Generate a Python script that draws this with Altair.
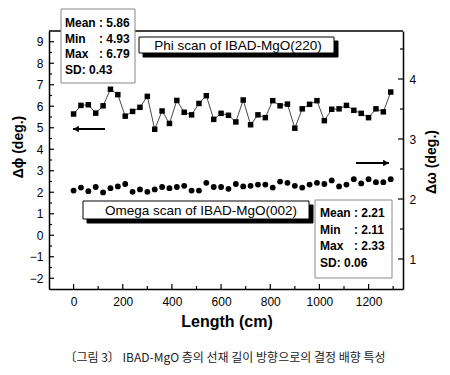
import altair as alt
import pandas as pd

FONT = "Liberation Sans"
KFONT = "Noto Sans CJK KR"

# ---------------- data ----------------
length_cm = [0, 30, 60, 90, 120, 150, 180, 210, 240, 270, 300, 330, 360, 390, 420,
             450, 480, 510, 540, 570, 600, 630, 660, 690, 720, 750, 780, 810, 840, 870,
             900, 930, 960, 990, 1020, 1050, 1080, 1110, 1140, 1170, 1200, 1230, 1260, 1290]
phi_deg = [5.64, 6.04, 6.07, 5.68, 6.02, 6.79, 6.54, 5.54, 5.76, 5.95, 6.46, 4.93, 5.78, 5.20, 6.27,
           5.72, 5.60, 6.13, 6.49, 5.39, 5.67, 5.58, 5.27, 6.29, 5.14, 5.60, 5.47, 6.26, 6.02, 6.10,
           4.98, 5.88, 6.09, 6.26, 5.33, 5.86, 5.88, 6.04, 5.81, 5.67, 5.47, 5.88, 5.74, 6.66]
omega_deg = [2.14, 2.19, 2.13, 2.20, 2.11, 2.18, 2.21, 2.25, 2.12, 2.16, 2.12, 2.16, 2.20, 2.18, 2.20,
             2.22, 2.14, 2.14, 2.27, 2.20, 2.20, 2.17, 2.25, 2.21, 2.22, 2.24, 2.24, 2.19, 2.29, 2.27,
             2.22, 2.19, 2.24, 2.27, 2.25, 2.31, 2.21, 2.24, 2.33, 2.26, 2.33, 2.28, 2.28, 2.33]

x_major = [0, 200, 400, 600, 800, 1000, 1200]
x_minor = [100, 300, 500, 700, 900, 1100, 1300]
left_major = [-2, -1, 0, 1, 2, 3, 4, 5, 6, 7, 8, 9]
left_minor = [-1.5, -0.5, 0.5, 1.5, 2.5, 3.5, 4.5, 5.5, 6.5, 7.5, 8.5]
right_major = [1, 2, 3, 4]
right_minor = [1.5, 2.5, 3.5, 4.5]

phi_stat_labels = ["Mean", "Min", "Max"]
phi_stat_values = [": 5.86", ": 4.93", ": 6.79"]
phi_sd = "SD: 0.43"
omega_stat_labels = ["Mean", "Min", "Max"]
omega_stat_values = [": 2.21", ": 2.11", ": 2.33"]
omega_sd = "SD: 0.06"

phi_title = "Phi scan of IBAD-MgO(220)"
omega_title = "Omega scan of IBAD-MgO(002)"
x_title = "Length (cm)"
y_left_title = "Δϕ (deg.)"
y_right_title = "Δω (deg.)"
caption = "〔그림 3〕 IBAD-MgO 층의 선재 길이 방향으로의 결정 배향 특성"

# ---------------- layout ----------------
W, H = 354, 258
one = alt.Data(values=[{"a": 1}])

xscale = alt.Scale(domain=[-100, 1340], nice=False, zero=False)
lscale = alt.Scale(domain=[-2.5, 9.5], nice=False, zero=False)
rscale = alt.Scale(domain=[0.5, 4.8], nice=False, zero=False)

df = pd.DataFrame({"length": length_cm, "phi": phi_deg, "omega": omega_deg})

x_axis = alt.Axis(values=x_major, title=None, ticks=False, tickSize=0, labelPadding=7, format="d",
                  labelFontSize=12, labelFont=FONT, labelColor="black", grid=False,
                  domainColor="black", domainWidth=1.5, labelFlush=False)
l_axis = alt.Axis(values=left_major, title=None, ticks=False, tickSize=0, labelPadding=6, format="d",
                  labelFontSize=12, labelFont=FONT, labelColor="black", grid=False,
                  domainColor="black", domainWidth=1.5, orient="left")
r_axis = alt.Axis(values=right_major, title=None, ticks=False, tickSize=0, labelPadding=6, format="d",
                  labelFontSize=12, labelFont=FONT, labelColor="black", grid=False,
                  domainColor="black", domainWidth=1.5, orient="right")

phi_line = alt.Chart(df).mark_line(color="#333333", strokeWidth=0.9).encode(
    x=alt.X("length:Q", scale=xscale, axis=x_axis),
    y=alt.Y("phi:Q", scale=lscale, axis=l_axis),
)
phi_pts = alt.Chart(df).mark_point(shape="square", filled=True, color="black", size=30, opacity=1).encode(
    x=alt.X("length:Q", scale=xscale, axis=x_axis),
    y=alt.Y("phi:Q", scale=lscale, axis=l_axis),
)


def xticks(vals, n):
    return alt.Chart(pd.DataFrame({"length": vals})).mark_rule(color="black", strokeWidth=1.2).encode(
        x=alt.X("length:Q", scale=xscale, axis=x_axis), y=alt.value(H), y2=alt.value(H - n))


def lticks(vals, n):
    return alt.Chart(pd.DataFrame({"phi": vals})).mark_rule(color="black", strokeWidth=1.2).encode(
        y=alt.Y("phi:Q", scale=lscale, axis=l_axis), x=alt.value(0), x2=alt.value(n))


def rticks(vals, n):
    return alt.Chart(pd.DataFrame({"omega": vals})).mark_rule(color="black", strokeWidth=1.2).encode(
        y=alt.Y("omega:Q", scale=rscale, axis=r_axis), x=alt.value(W), x2=alt.value(W - n))


top_border = alt.Chart(one).mark_rule(color="black", strokeWidth=1.5).encode(
    x=alt.value(0), x2=alt.value(W), y=alt.value(0))

left_group = alt.layer(phi_line, phi_pts, lticks(left_major, 5), lticks(left_minor, 3),
                       xticks(x_major, 5), xticks(x_minor, 3), top_border)

omega_pts = alt.Chart(df).mark_point(shape="circle", filled=True, color="black", size=34, opacity=1).encode(
    x=alt.X("length:Q", scale=xscale, axis=x_axis),
    y=alt.Y("omega:Q", scale=rscale, axis=r_axis),
)
right_group = alt.layer(omega_pts, rticks(right_major, 5), rticks(right_minor, 3))


def txt(s, x, y, size=12, weight="bold", align="left", angle=0, font=FONT, color="black"):
    return alt.Chart(one).mark_text(text=s, fontSize=size, fontWeight=weight, align=align,
                                    baseline="middle", angle=angle, font=font, color=color).encode(
        x=alt.value(x), y=alt.value(y))


def box(x1, y1, x2, y2, fill="white", stroke="black", sw=1.0):
    return alt.Chart(one).mark_rect(fill=fill, stroke=stroke, strokeWidth=sw).encode(
        x=alt.value(x1), x2=alt.value(x2), y=alt.value(y1), y2=alt.value(y2))


def arrow(x1, x2, y, head):
    line = alt.Chart(one).mark_rule(color="black", strokeWidth=2).encode(
        x=alt.value(x1), x2=alt.value(x2), y=alt.value(y))
    hx = x1 + 3 if head == "left" else x2 - 3
    tri = alt.Chart(one).mark_point(shape="triangle-" + head, filled=True, color="black",
                                    size=45, opacity=1).encode(x=alt.value(hx), y=alt.value(y))
    return [line, tri]


annots = []
# phi stats box
annots.append(box(12, -22, 86, 52, stroke="#888888"))
for i, (lab, val) in enumerate(zip(phi_stat_labels, phi_stat_values)):
    yy = -8 + i * 15.7
    annots.append(txt(lab, 16, yy))
    annots.append(txt(val, 50, yy))
annots.append(txt(phi_sd, 16, -8 + 3 * 15.7))
# phi title box
annots.append(box(94, 10, 289, 26, fill="black"))
annots.append(box(90, 6, 285, 22))
annots.append(txt(phi_title, 189, 15, size=13.5, weight="normal", align="center"))
annots += arrow(24, 56, 98, "left")
# omega title box
annots.append(box(38, 174, 264, 192, fill="black"))
annots.append(box(34, 170, 260, 188))
annots.append(txt(omega_title, 152, 180, size=13.5, weight="normal", align="center"))
annots += arrow(307, 340, 132, "right")
# omega stats box
annots.append(box(266, 169, 343, 247, stroke="#888888"))
for i, (lab, val) in enumerate(zip(omega_stat_labels, omega_stat_values)):
    yy = 182 + i * 16.6
    annots.append(txt(lab, 271, yy))
    annots.append(txt(val, 305, yy))
annots.append(txt(omega_sd, 271, 182 + 3 * 16.6))
# axis titles & caption
annots.append(txt(x_title, 178, 291, size=16, align="center"))
annots.append(txt(y_left_title, -30, 116, size=14, align="center", angle=270))
annots.append(txt(y_right_title, 383, 131, size=14, align="center", angle=270))
annots.append(txt(caption, 176, 327, size=12, weight="normal", align="center", font=KFONT, color="#222222"))

chart = alt.layer(left_group, right_group, *annots).resolve_scale(y="independent").properties(
    width=W, height=H,
    autosize=alt.AutoSizeParams(type="none"),
    padding={"left": 41, "top": 23, "right": 39, "bottom": 78},
    background="white",
).configure_view(strokeWidth=0)

chart.save("out.html", embed_options={"renderer": "svg", "actions": False})
